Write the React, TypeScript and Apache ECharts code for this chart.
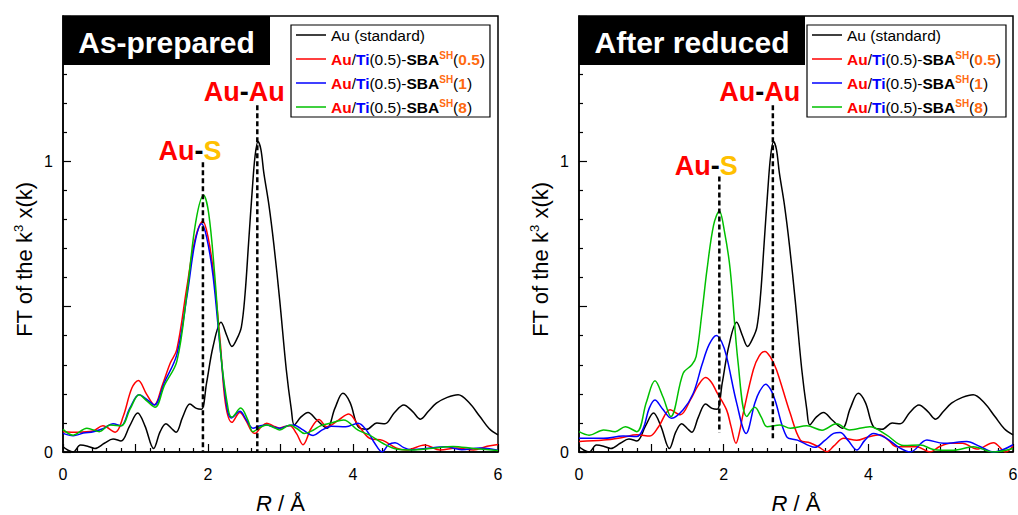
import React, { useEffect, useRef } from "react";
import * as echarts from "echarts";

const FONT = '"Liberation Sans", Arial, sans-serif';
const RED = "#FF0000";
const BLUE = "#0000FF";
const GREEN = "#00C000";
const ORANGE = "#FF6A10";
const YELLOW = "#FFC000";

const SERIES_NAMES = ["Au (standard)", "Au/Ti(0.5)-SBA-SH(0.5)", "Au/Ti(0.5)-SBA-SH(1)", "Au/Ti(0.5)-SBA-SH(8)"];
const SERIES_COLORS = ["#000000", RED, BLUE, GREEN];
const PANEL_TITLES = ["As-prepared", "After reduced"];
const X_TICKS = [0, 2, 4, 6];
const Y_TICKS = [0, 1];

// Au foil reference (same in both panels)
const AU_STD: number[][] = [
  [0, 0.018], [0.07, 0.006], [0.14, 0.0], [0.24, 0.024], [0.34, 0.02], [0.44, 0.012], [0.57, 0.03], [0.69, 0.045],
  [0.8, 0.038], [0.92, 0.09], [1.03, 0.134], [1.13, 0.09], [1.25, 0.012], [1.34, 0.07], [1.42, 0.097], [1.5, 0.08],
  [1.56, 0.068], [1.65, 0.12], [1.75, 0.165], [1.84, 0.15], [1.91, 0.147], [1.98, 0.237], [2.07, 0.363], [2.18, 0.446],
  [2.26, 0.4], [2.33, 0.363], [2.4, 0.39], [2.46, 0.43], [2.51, 0.54], [2.56, 0.72], [2.61, 0.9], [2.65, 1.02],
  [2.69, 1.068], [2.73, 1.04], [2.77, 0.96], [2.84, 0.85], [2.91, 0.71], [2.99, 0.52], [3.08, 0.283], [3.15, 0.145],
  [3.19, 0.093], [3.28, 0.12], [3.38, 0.136], [3.5, 0.11], [3.64, 0.082], [3.75, 0.15], [3.86, 0.202], [3.96, 0.17],
  [4.07, 0.087], [4.19, 0.078], [4.33, 0.1], [4.44, 0.097], [4.57, 0.135], [4.7, 0.162], [4.82, 0.14], [4.93, 0.113],
  [5.04, 0.14], [5.15, 0.168], [5.3, 0.188], [5.45, 0.197], [5.6, 0.17], [5.75, 0.122], [5.88, 0.08], [6, 0.059],
];

// As-prepared
const AP_05: number[][] = [
  [0, 0.07], [0.2, 0.068], [0.41, 0.072], [0.55, 0.09], [0.72, 0.068], [0.83, 0.122], [0.95, 0.22], [1.04, 0.246],
  [1.15, 0.2], [1.26, 0.162], [1.37, 0.23], [1.48, 0.306], [1.57, 0.352], [1.71, 0.57], [1.82, 0.73], [1.93, 0.794],
  [2.0, 0.74], [2.07, 0.628], [2.17, 0.375], [2.24, 0.168], [2.33, 0.102], [2.44, 0.136], [2.52, 0.11], [2.6, 0.072],
  [2.65, 0.064], [2.73, 0.085], [2.81, 0.099], [2.9, 0.09], [2.99, 0.082], [3.06, 0.088], [3.13, 0.09], [3.22, 0.064],
  [3.31, 0.025], [3.42, 0.08], [3.53, 0.112], [3.64, 0.087], [3.8, 0.11], [3.94, 0.131], [4.08, 0.09], [4.23, 0.047],
  [4.41, 0.04], [4.6, 0.013], [4.74, 0.007], [4.99, 0.024], [5.2, 0.007], [5.43, 0.014], [5.66, 0.007], [5.85, 0.02],
  [6, 0.026],
];
const AP_1: number[][] = [
  [0, 0.064], [0.14, 0.056], [0.28, 0.065], [0.42, 0.07], [0.55, 0.08], [0.69, 0.097], [0.8, 0.09], [0.92, 0.15],
  [1.05, 0.197], [1.16, 0.18], [1.26, 0.162], [1.4, 0.24], [1.57, 0.335], [1.71, 0.536], [1.82, 0.72], [1.91, 0.785],
  [1.98, 0.74], [2.07, 0.605], [2.17, 0.352], [2.26, 0.155], [2.32, 0.117], [2.44, 0.14], [2.53, 0.11], [2.62, 0.082],
  [2.72, 0.09], [2.81, 0.093], [2.9, 0.086], [2.99, 0.082], [3.1, 0.09], [3.18, 0.093], [3.31, 0.076], [3.45, 0.057],
  [3.57, 0.075], [3.7, 0.089], [3.9, 0.087], [4.07, 0.099], [4.2, 0.07], [4.3, 0.03], [4.4, 0.0], [4.49, 0.025],
  [4.58, 0.032], [4.7, 0.015], [4.8, 0.008], [5.0, 0.012], [5.28, 0.018], [5.5, 0.008], [5.75, 0.014], [6, 0.006],
];
const AP_8: number[][] = [
  [0, 0.078], [0.14, 0.058], [0.33, 0.082], [0.5, 0.07], [0.65, 0.093], [0.8, 0.09], [0.93, 0.15], [1.05, 0.197],
  [1.16, 0.175], [1.27, 0.154], [1.4, 0.23], [1.57, 0.312], [1.71, 0.547], [1.83, 0.79], [1.94, 0.883], [2.01, 0.82],
  [2.09, 0.617], [2.18, 0.329], [2.28, 0.145], [2.33, 0.12], [2.45, 0.151], [2.55, 0.11], [2.62, 0.07], [2.72, 0.085],
  [2.81, 0.093], [2.9, 0.085], [2.99, 0.076], [3.13, 0.093], [3.23, 0.08], [3.33, 0.064], [3.45, 0.075], [3.55, 0.09],
  [3.7, 0.1], [3.87, 0.11], [4.07, 0.075], [4.23, 0.058], [4.41, 0.03], [4.6, 0.01], [4.8, 0.007], [5.1, 0.013],
  [5.38, 0.019], [5.66, 0.012], [6, 0.005],
];

// After reduced
const AR_05: number[][] = [
  [0, 0.036], [0.34, 0.041], [0.6, 0.05], [0.8, 0.059], [0.98, 0.055], [1.1, 0.087], [1.26, 0.145], [1.4, 0.128],
  [1.54, 0.179], [1.65, 0.23], [1.75, 0.256], [1.83, 0.24], [1.9, 0.208], [2.04, 0.145], [2.1, 0.09], [2.17, 0.03],
  [2.22, 0.07], [2.27, 0.133], [2.41, 0.283], [2.49, 0.33], [2.57, 0.346], [2.65, 0.325], [2.73, 0.283], [2.92, 0.133],
  [3.06, 0.041], [3.19, 0.032], [3.31, 0.018], [3.43, 0.001], [3.52, 0.02], [3.66, 0.047], [3.84, 0.04], [4.0, 0.052],
  [4.16, 0.059], [4.28, 0.04], [4.39, 0.018], [4.67, 0.018], [4.85, 0.0], [4.98, 0.018], [5.13, 0.03], [5.3, 0.03],
  [5.5, 0.01], [5.73, 0.032], [5.9, 0.0], [6, 0.022],
];
const AR_1: number[][] = [
  [0, 0.047], [0.34, 0.047], [0.61, 0.055], [0.8, 0.053], [0.89, 0.082], [0.97, 0.15], [1.05, 0.179], [1.15, 0.15],
  [1.28, 0.116], [1.44, 0.145], [1.58, 0.202], [1.7, 0.3], [1.8, 0.37], [1.9, 0.401], [1.97, 0.38], [2.04, 0.329],
  [2.18, 0.168], [2.31, 0.064], [2.43, 0.168], [2.5, 0.21], [2.58, 0.233], [2.65, 0.215], [2.71, 0.179], [2.87, 0.053],
  [3.02, 0.041], [3.19, 0.021], [3.26, 0.016], [3.4, 0.04], [3.52, 0.064], [3.61, 0.067], [3.72, 0.04], [3.84, 0.007],
  [3.95, 0.04], [4.07, 0.064], [4.25, 0.047], [4.44, 0.013], [4.58, 0.0], [4.81, 0.041], [5.04, 0.03], [5.36, 0.036],
  [5.55, 0.018], [5.73, 0.0], [6, 0.025],
];
const AR_8: number[][] = [
  [0, 0.07], [0.14, 0.058], [0.34, 0.076], [0.5, 0.07], [0.64, 0.087], [0.8, 0.07], [0.93, 0.17], [1.05, 0.245],
  [1.16, 0.19], [1.27, 0.122], [1.44, 0.271], [1.56, 0.3], [1.62, 0.329], [1.7, 0.48], [1.77, 0.628], [1.86, 0.78],
  [1.94, 0.829], [2.01, 0.76], [2.09, 0.628], [2.2, 0.306], [2.32, 0.122], [2.43, 0.154], [2.52, 0.12], [2.6, 0.087],
  [2.78, 0.093], [2.92, 0.082], [3.15, 0.09], [3.36, 0.075], [3.56, 0.097], [3.74, 0.076], [4.02, 0.087], [4.25, 0.059],
  [4.49, 0.022], [4.72, 0.024], [4.9, 0.009], [5.18, 0.006], [5.45, 0.018], [5.73, 0.0], [6, 0.012],
];

// Reference bond positions: [R, top of dashed line, bottom of dashed line]
const AUS_LINE_AP = [1.93, 0.997, 0];
const AUAU_LINE_AP = [2.68, 1.193, 0];
const AUS_LINE_AR = [1.94, 0.948, 0.066];
const AUAU_LINE_AR = [2.68, 1.193, 0.041];

const legendRich: Record<string, string> = {
  [SERIES_NAMES[0]]: "{k|Au (standard)}",
  [SERIES_NAMES[1]]: "{au|Au}{k|/}{ti|Ti}{k|(0.5)-}{b|SBA}{sup|SH}{k|(}{o|0.5}{k|)}",
  [SERIES_NAMES[2]]: "{au|Au}{k|/}{ti|Ti}{k|(0.5)-}{b|SBA}{sup|SH}{k|(}{o|1}{k|)}",
  [SERIES_NAMES[3]]: "{au|Au}{k|/}{ti|Ti}{k|(0.5)-}{b|SBA}{sup|SH}{k|(}{o|8}{k|)}",
};

export default function App() {
  const ref = useRef<HTMLDivElement>(null);

  useEffect(() => {
    if (!ref.current) return;
    const chart = echarts.init(ref.current, null, { renderer: "svg" });

    const grids = [
      { left: 63, top: 16, width: 435, height: 436 },
      { left: 579, top: 16, width: 434, height: 436 },
    ];

    const xAxis = grids.map((_, i) => ({
      type: "value",
      gridIndex: i,
      min: 0,
      max: 6,
      interval: 1,
      name: "{i|R}{n| / Å}",
      nameLocation: "middle",
      nameGap: 40,
      nameTextStyle: {
        rich: {
          i: { fontSize: 22, fontStyle: "italic", fontFamily: FONT, color: "#000" },
          n: { fontSize: 22, fontFamily: FONT, color: "#000" },
        },
      },
      axisLine: { show: true, onZero: false, lineStyle: { color: "#000", width: 1.5 } },
      axisTick: { show: true, inside: true, length: 8, lineStyle: { color: "#000", width: 1.2 } },
      minorTick: { show: true, splitNumber: 5, length: 4, lineStyle: { color: "#000", width: 1.2 } },
      axisLabel: {
        fontSize: 16,
        fontFamily: FONT,
        color: "#000",
        margin: 14,
        formatter: (v: number) => (X_TICKS.includes(v) ? String(v) : ""),
      },
      splitLine: { show: false },
      minorSplitLine: { show: false },
    }));

    const yAxis = grids.map((_, i) => ({
      type: "value",
      gridIndex: i,
      min: 0,
      max: 1.5,
      interval: 0.5,
      name: "{n|FT of the k}{s|3}{n| x(k)}",
      nameLocation: "middle",
      nameRotate: 90,
      nameGap: 27,
      nameTextStyle: {
        padding: [0, 51, 0, 0],
        rich: {
          n: { fontSize: 22, fontFamily: FONT, color: "#000", lineHeight: 24 },
          s: { fontSize: 13, fontFamily: FONT, color: "#000", verticalAlign: "top", lineHeight: 14 },
        },
      },
      axisLine: { show: true, onZero: false, lineStyle: { color: "#000", width: 1.5 } },
      axisTick: { show: true, inside: true, length: 8, lineStyle: { color: "#000", width: 1.2 } },
      minorTick: { show: true, splitNumber: 5, length: 4, lineStyle: { color: "#000", width: 1.2 } },
      axisLabel: {
        fontSize: 16,
        fontFamily: FONT,
        color: "#000",
        margin: 10,
        formatter: (v: number) => (Y_TICKS.includes(v) ? String(v) : ""),
      },
      splitLine: { show: false },
      minorSplitLine: { show: false },
    }));

    const panelData = [
      [AU_STD, AP_05, AP_1, AP_8],
      [AU_STD, AR_05, AR_1, AR_8],
    ];

    const series: any[] = [];
    panelData.forEach((set, gi) => {
      set.forEach((data, si) => {
        series.push({
          type: "line",
          name: SERIES_NAMES[si],
          xAxisIndex: gi,
          yAxisIndex: gi,
          data,
          smooth: 0.35,
          symbol: "none",
          lineStyle: { color: SERIES_COLORS[si], width: 1.5 },
          itemStyle: { color: SERIES_COLORS[si] },
          z: si === 0 ? 3 : 2 + si,
        });
      });
    });

    const annoRich = {
      r: { color: RED, fontSize: 27, fontWeight: "bold", fontFamily: FONT },
      k: { color: "#000", fontSize: 27, fontWeight: "bold", fontFamily: FONT },
      y: { color: YELLOW, fontSize: 27, fontWeight: "bold", fontFamily: FONT },
    };
    const bondLines = [
      { gi: 0, line: AUS_LINE_AP, text: "{r|Au}{k|-}{y|S}", dy: 5 },
      { gi: 0, line: AUAU_LINE_AP, text: "{r|Au}{k|-}{r|Au}", dy: 3 },
      { gi: 1, line: AUS_LINE_AR, text: "{r|Au}{k|-}{y|S}", dy: 6 },
      { gi: 1, line: AUAU_LINE_AR, text: "{r|Au}{k|-}{r|Au}", dy: 3 },
    ];
    bondLines.forEach((b) => {
      series.push({
        type: "line",
        xAxisIndex: b.gi,
        yAxisIndex: b.gi,
        data: [
          {
            value: [b.line[0], b.line[1]],
            label: {
              show: true,
              position: "top",
              distance: 3,
              offset: [-13, b.dy],
              formatter: b.text,
              rich: annoRich,
            },
          },
          [b.line[0], b.line[2]],
        ],
        symbol: "circle",
        symbolSize: 0,
        showSymbol: true,
        lineStyle: { color: "#000", width: 2.5, type: [5, 3] },
        itemStyle: { color: "#000" },
        z: 10,
        silent: true,
      });
    });

    const legendBase = {
      orient: "vertical",
      top: 25,
      data: SERIES_NAMES,
      icon: "rect",
      itemWidth: 30,
      itemHeight: 1.5,
      itemGap: 7,
      padding: [2, 5, 2, 5],
      borderColor: "#000",
      borderWidth: 1.2,
      backgroundColor: "#fff",
      formatter: (name: string) => legendRich[name],
      textStyle: {
        fontFamily: FONT,
        fontSize: 15.5,
        rich: {
          k: { color: "#000", fontSize: 15.5, fontFamily: FONT, lineHeight: 18 },
          au: { color: RED, fontSize: 15.5, fontWeight: "bold", fontFamily: FONT, lineHeight: 18 },
          ti: { color: BLUE, fontSize: 15.5, fontWeight: "bold", fontFamily: FONT, lineHeight: 18 },
          b: { color: "#000", fontSize: 15.5, fontWeight: "bold", fontFamily: FONT, lineHeight: 18 },
          o: { color: ORANGE, fontSize: 15.5, fontWeight: "bold", fontFamily: FONT, lineHeight: 18 },
          sup: { color: ORANGE, fontSize: 10, fontWeight: "bold", fontFamily: FONT, verticalAlign: "top", lineHeight: 12 },
        },
      },
      selectedMode: false,
      z: 20,
    };

    const titleBoxes = [
      { x: 63, w: 207, text: PANEL_TITLES[0] },
      { x: 579, w: 226, text: PANEL_TITLES[1] },
    ];

    chart.setOption({
      animation: false,
      textStyle: { fontFamily: FONT },
      grid: grids.map((g) => ({
        ...g,
        outerBoundsMode: "none",
        containLabel: false,
        show: true,
        borderColor: "#000",
        borderWidth: 1.5,
        backgroundColor: "transparent",
      })),
      xAxis,
      yAxis,
      legend: [
        { ...legendBase, left: 291 },
        { ...legendBase, left: 807 },
      ],
      graphic: titleBoxes.flatMap((t) => [
        { type: "rect", shape: { x: t.x, y: 16, width: t.w, height: 49 }, style: { fill: "#000" }, z: 30 },
        {
          type: "text",
          x: t.x + t.w / 2,
          y: 42,
          z: 31,
          style: {
            text: t.text,
            fill: "#fff",
            fontSize: 30,
            fontWeight: "bold",
            fontFamily: FONT,
            align: "center",
            verticalAlign: "middle",
          },
        },
      ]),
      series,
    });

    return () => chart.dispose();
  }, []);

  return (
    <div
      ref={ref}
      style={{ position: "absolute", left: 0, top: 0, width: 1018, height: 515, background: "#fff" }}
    />
  );
}
